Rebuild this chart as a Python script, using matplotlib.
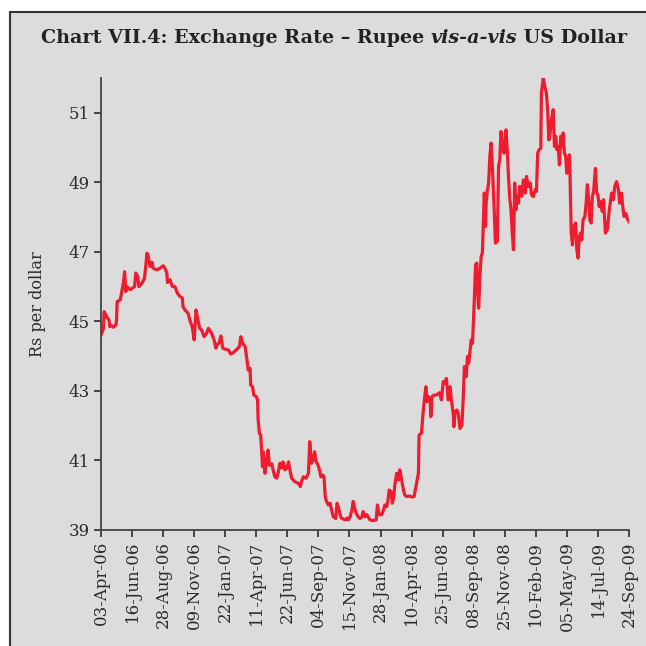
import numpy as np
import matplotlib.pyplot as plt
from matplotlib.patches import Rectangle

# trading-day number (50 days between ticks) and rupee rate
days = [0, 4, 5, 9, 13, 14, 17, 20, 24, 25, 26, 31, 33, 36, 38, 40, 42, 47, 50, 54,
        56, 59, 61, 66, 70, 72, 74, 76, 79, 82, 84, 90, 95, 100, 103, 106, 107, 111, 115, 119,
        123, 127, 131, 132, 135, 140, 143, 147, 150, 153, 156, 159, 162, 166, 170, 173,
        178, 182, 185, 187, 190, 193, 196, 200, 205, 209, 213, 216, 219, 223, 225, 228,
        232, 235, 237, 240, 241, 244, 246, 250, 252, 253, 255, 257, 259, 260, 261, 264,
        267, 269, 271, 275, 277, 280, 283, 285, 288, 291, 293, 296, 299, 302, 304, 307,
        312, 318, 321, 323, 326, 330, 332, 334, 336, 339, 342, 344, 346, 348, 351, 354,
        357, 359, 361, 363, 366, 369, 371, 374, 378, 380, 382, 385, 387, 393, 396, 398,
        401, 404, 406, 409, 412, 414, 417, 420, 422, 425, 428, 430, 433, 438, 443, 445,
        448, 452, 454, 457, 460, 462, 464, 467, 469, 471, 473, 476, 479, 481, 484, 487,
        489, 492, 496, 500, 504, 506, 508, 511, 512, 516, 518, 520, 523, 525, 527, 530,
        531, 533, 536, 540, 545, 548, 551, 554, 556, 559, 562, 564, 567, 568, 570, 573,
        575, 578, 581, 583, 585, 588, 590, 592, 594, 596, 598, 599, 601, 603, 605, 606,
        608, 610, 612, 614, 617, 619, 620, 622, 624, 626, 628, 630, 633, 635, 638, 640,
        642, 644, 647, 649, 652, 654, 656, 658, 660, 662, 664, 666, 668, 670, 672, 674,
        677, 680, 683, 685, 688, 691, 693, 696, 699, 701, 703, 705, 708, 709, 712, 715,
        717, 719, 721, 723, 725, 728, 730, 732, 734, 736, 738, 740, 742, 744, 746, 748,
        750, 752, 754, 755, 757, 759, 761, 764, 766, 768, 770, 772, 774, 776, 779, 781,
        783, 785, 787, 789, 791, 793, 796, 798, 800, 802, 804, 807, 809, 810, 812, 815,
        818, 819, 822, 825, 827, 830, 833, 835, 838, 840, 842, 845, 847, 850]
rate = [44.61, 44.80, 45.28, 45.14, 45.04, 44.85, 44.88, 44.83, 44.90, 45.04, 45.57, 45.62, 45.81, 46.10, 46.43, 45.86, 46.00, 45.91, 45.95, 46.00,
        46.39, 46.29, 46.00, 46.10, 46.24, 46.58, 46.96, 46.88, 46.58, 46.70, 46.53, 46.48, 46.53, 46.60, 46.53, 46.39, 46.12, 46.20, 46.00, 46.00,
        45.81, 45.72, 45.67, 45.43, 45.33, 45.24, 45.04, 44.83, 44.47, 45.33, 45.04, 44.80, 44.75, 44.56, 44.66, 44.80,
        44.66, 44.47, 44.23, 44.33, 44.38, 44.58, 44.23, 44.20, 44.18, 44.06, 44.10, 44.15, 44.20, 44.28, 44.56, 44.37,
        44.28, 43.89, 43.60, 43.65, 43.17, 43.12, 42.88, 42.84, 42.74, 42.17, 41.78, 41.74, 41.11, 40.82, 41.25, 40.63,
        41.05, 41.30, 40.86, 40.90, 40.73, 40.53, 40.49, 40.63, 40.92, 40.78, 40.96, 40.73, 40.78, 40.96, 40.73, 40.49,
        40.39, 40.34, 40.25, 40.41, 40.53, 40.49, 40.56, 40.63, 41.54, 40.92, 41.06, 41.25, 40.97, 40.92, 40.78, 40.53,
        40.58, 40.53, 39.96, 39.82, 39.72, 39.77, 39.58, 39.38, 39.33, 39.77, 39.67, 39.44, 39.34, 39.29, 39.34, 39.29,
        39.38, 39.58, 39.82, 39.58, 39.44, 39.38, 39.33, 39.38, 39.53, 39.38, 39.44, 39.38, 39.29, 39.27, 39.29, 39.72,
        39.44, 39.44, 39.53, 39.72, 39.67, 39.86, 40.15, 40.10, 39.77, 39.91, 40.29, 40.63, 40.44, 40.73, 40.44, 40.15,
        40.01, 39.96, 39.98, 39.95, 39.96, 40.15, 40.34, 40.63, 41.73, 41.79, 42.26, 42.65, 43.12, 42.69, 42.84, 42.69,
        42.26, 42.84, 42.88, 42.88, 42.95, 42.74, 43.27, 43.22, 43.36, 42.74, 43.12, 42.74, 42.36, 41.97, 42.40, 42.45,
        42.36, 41.92, 42.02, 42.74, 43.70, 43.41, 43.99, 43.80, 44.13, 44.47, 44.37, 44.76, 45.62, 46.63, 46.68, 45.91,
        45.38, 46.29, 46.87, 46.97, 48.69, 47.73, 48.40, 48.78, 48.97, 49.74, 50.13, 49.46, 48.21, 47.25, 47.30, 49.46,
        49.65, 50.46, 49.94, 49.84, 50.51, 49.94, 49.17, 48.55, 48.21, 47.54, 47.06, 48.98, 48.21, 48.60, 48.40, 48.88,
        48.60, 49.07, 48.69, 49.17, 48.88, 48.98, 48.64, 48.59, 48.79, 48.74, 49.84, 49.93, 49.98, 51.57, 52.00, 51.71,
        51.57, 51.09, 50.22, 50.41, 50.80, 51.09, 50.03, 50.32, 49.94, 50.03, 49.50, 50.32, 50.03, 50.42, 49.84, 49.76,
        49.26, 49.36, 49.79, 49.26, 47.54, 47.20, 47.73, 47.83, 47.06, 46.82, 47.44, 47.54, 47.34, 47.92, 48.02, 48.40,
        48.93, 48.50, 47.92, 47.83, 48.59, 48.74, 49.40, 48.69, 48.64, 48.30, 48.45, 48.16, 48.50, 48.16, 47.54, 47.63,
        48.16, 48.30, 48.69, 48.50, 48.88, 49.02, 48.79, 48.40, 48.69, 48.30, 48.02, 48.10, 47.97, 47.87]

tick_labels = ['03-Apr-06', '16-Jun-06', '28-Aug-06', '09-Nov-06', '22-Jan-07', '11-Apr-07',
               '22-Jun-07', '04-Sep-07', '15-Nov-07', '28-Jan-08', '10-Apr-08', '25-Jun-08',
               '08-Sep-08', '25-Nov-08', '10-Feb-09', '05-May-09', '14-Jul-09', '24-Sep-09']
y_ticks = [39, 41, 43, 45, 47, 49, 51]

bg = '#dcdcdc'
dark = '#2b2b2b'
plt.rcParams['font.family'] = 'DejaVu Serif'

fig = plt.figure(figsize=(6.46, 6.46), dpi=100, facecolor='white')
frame = Rectangle((10 / 646, -0.05), 1.1, 1 - 12 / 646 + 0.05,
                  transform=fig.transFigure, facecolor=bg,
                  edgecolor='#333333', linewidth=1.5, zorder=-5)
fig.patches.append(frame)

ax = fig.add_axes([101 / 646, 1 - 530 / 646, 528 / 646, 452 / 646])
ax.set_zorder(2)
ax.set_facecolor(bg)
ax.plot(days, rate, color='#ee1c2e', linewidth=2.3, solid_joinstyle='round')

ax.set_xlim(0, 850)
ax.set_ylim(39, 52)
ax.set_yticks(y_ticks)
ax.set_xticks(np.arange(len(tick_labels)) * 50)
ax.set_xticklabels(tick_labels, rotation=90)
ax.tick_params(axis='both', colors=dark, labelsize=12, length=5, width=1.2, pad=3)
for s in ['top', 'right']:
    ax.spines[s].set_visible(False)
for s in ['left', 'bottom']:
    ax.spines[s].set_color('#444444')
    ax.spines[s].set_linewidth(1.3)
ax.set_ylabel('Rs per dollar', fontsize=11.5, color=dark, labelpad=16)

# title in pieces so the middle words can be italic
parts = [('Chart VII.4: Exchange Rate \u2013 Rupee ', 'normal'),
         ('vis-a-vis', 'italic'),
         (' US Dollar', 'normal')]
fig.canvas.draw()
r = fig.canvas.get_renderer()
texts = []
for s, st in parts:
    t = fig.text(0, 1 - 38 / 646, s, fontsize=13.8, fontweight='bold', style=st,
                 color='#222222', va='center', ha='left', zorder=3)
    texts.append(t)
widths = [t.get_window_extent(r).width for t in texts]
x0 = (334 - sum(widths) / 2) / 646
for t, w in zip(texts, widths):
    t.set_x(x0)
    x0 += w / 646

fig.savefig('out.png', dpi=100, facecolor='white')
